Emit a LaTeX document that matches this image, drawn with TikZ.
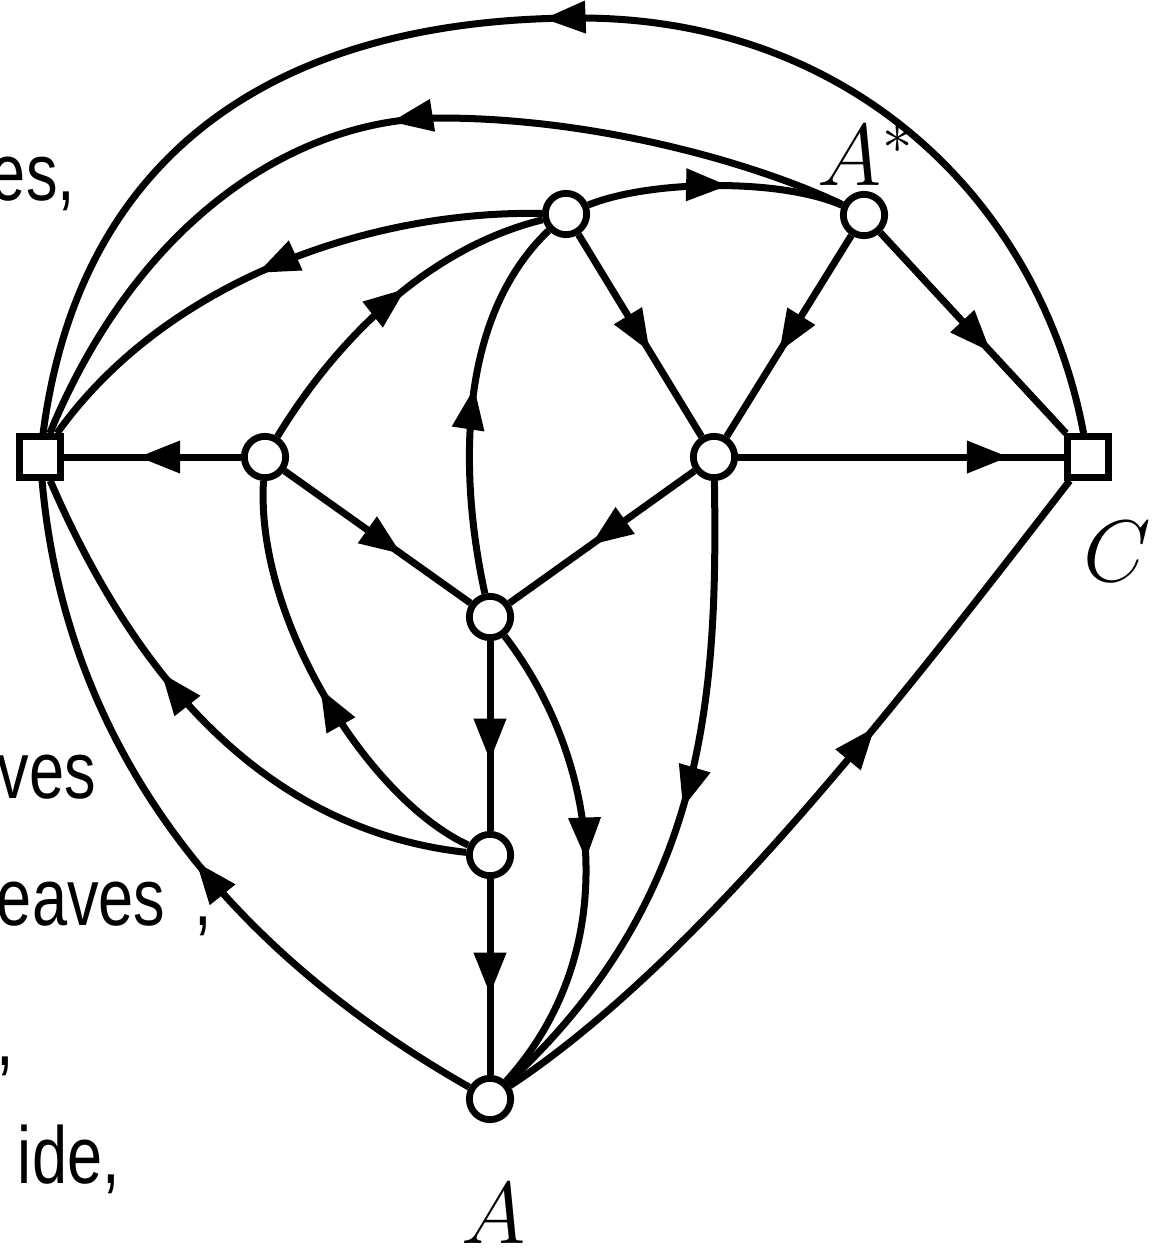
\documentclass[tikz,border=0pt]{standalone}
\usepackage{fontspec}
\newfontfamily\fragfont[FakeStretch=0.78]{Liberation Sans}
\usetikzlibrary{arrows.meta,decorations.markings}
\begin{document}
\begin{tikzpicture}[x=0.01cm,y=-0.01cm,
  edge/.style={line width=0.07cm},
  mid/.style={postaction={decorate},decoration={markings,mark=at position #1 with {\arrow{Triangle[length=0.42cm,width=0.31cm]}}}},
  vtx/.style={circle,draw,line width=0.068cm,minimum size=0.413cm,inner sep=0pt,fill=white},
  term/.style={rectangle,draw,line width=0.068cm,minimum size=0.405cm,inner sep=0pt,fill=white},
  lab/.style={font=\fontsize{25}{30}\selectfont,inner sep=0pt},
  frag/.style={font=\fragfont\fontsize{23}{28}\selectfont,inner sep=0pt,outer sep=0pt,anchor=base west}]
\useasboundingbox[fill=white] (0,0) rectangle (1159,1251);
% vertices
\node[term] (L) at (40,457) {};
\node[term] (C) at (1088,457) {};
\node[vtx] (T) at (566,214) {};
\node[vtx] (As) at (864,215) {};
\node[vtx] (Lm) at (265,457) {};
\node[vtx] (Rm) at (714,457) {};
\node[vtx] (M) at (490,617) {};
\node[vtx] (B) at (490,855) {};
\node[vtx] (A) at (490,1099) {};
% labels
\node[lab,anchor=base] (lAs) at (866,185) {$A^*$};
\node[lab,anchor=base] (lC) at (1117,581) {$C$};
\node[lab,anchor=base] (lA) at (494,1243) {$A$};
% text fragments
\node[frag] (f1) at (-9,200) {es,};
\node[frag] (f2) at (-2,798) {ves};
\node[frag] (f3) at (-3,925) {eaves\hspace{0.29cm},};
\node[frag] (f4) at (-3,1065) {,};
\node[frag] (f5) at (18,1183) {ide,};
% straight edges
\draw[edge,mid=0.58] (Lm) -- (L);
\draw[edge,mid=0.63] (Lm) -- (M);
\draw[edge,mid=0.56] (Rm) -- (M);
\draw[edge,mid=0.83] (Rm) -- (C);
\draw[edge,mid=0.58] (T) -- (Rm);
\draw[edge,mid=0.58] (As) -- (Rm);
\draw[edge,mid=0.595] (As) -- (C);
\draw[edge,mid=0.63] (M) -- (B);
\draw[edge,mid=0.59] (B) -- (A);
% curved edges
\draw[edge,mid=0.51] (C) .. controls (1040,200) and (850,18) .. (580,18) .. controls (280,18) and (80,150) .. (L);
\draw[edge,mid=0.49] (As) .. controls (760,165) and (600,118) .. (440,118) .. controls (300,118) and (140,215) .. (L);
\draw[edge,mid=0.53] (T) .. controls (380,210) and (170,275) .. (L);
\draw[edge,mid=0.55] (T) .. controls (650,180) and (780,178) .. (As);
\draw[edge,mid=0.56] (Lm) .. controls (330,350) and (420,250) .. (T);
\draw[edge,mid=0.54] (M) .. controls (460,480) and (455,320) .. (T);
\draw[edge,mid=0.5] (M) .. controls (600,760) and (625,950) .. (A);
\draw[edge,mid=0.5] (Rm) .. controls (718,700) and (705,900) .. (A);
\draw[edge,mid=0.62] (A) .. controls (700,960) and (900,700) .. (C);
\draw[edge,mid=0.62] (B) .. controls (310,835) and (160,735) .. (L);
\draw[edge,mid=0.5] (B) .. controls (370,800) and (255,620) .. (Lm);
\draw[edge,mid=0.46] (A) .. controls (290,985) and (70,800) .. (L);
\end{tikzpicture}
\end{document}
